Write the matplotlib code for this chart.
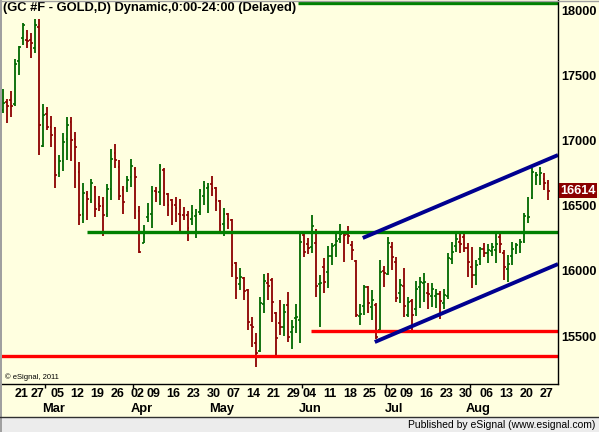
import numpy as np
import pandas as pd
import matplotlib
matplotlib.use("Agg")
import matplotlib.pyplot as plt
from matplotlib.patches import Rectangle
from matplotlib.lines import Line2D

plt.rcParams['font.family'] = ['Liberation Sans', 'DejaVu Sans']

# daily bars, GC #F, 14 Feb - 28 Aug 2012 (price x10 as on the chart)
holidays = ['2012-02-20', '2012-04-06', '2012-05-28', '2012-07-04']
dates = pd.bdate_range('2012-02-14', '2012-08-28', freq='C', holidays=holidays)

opens = np.array([
    17233, 17295, 17310, 17280, 17610, 17786, 17770, 17770, 17710, 17870,
    16957, 17203, 17103, 17095, 16750, 16842, 17011, 17141, 17011, 16758,
    16436, 16589, 16543, 16643, 16512, 16497, 16436, 16627, 16904, 16796,
    16620, 16635, 16720, 16781, 16459, 16213, 16413, 16436, 16612, 16604,
    16773, 16589, 16543, 16505, 16436, 16428, 16428, 16397, 16420, 16451,
    16574, 16635, 16666, 16635, 16536, 16359, 16436, 16390, 16060, 15899,
    15945, 15853, 15585, 15446, 15385, 15745, 15907, 15930, 15676, 15600,
    15569, 15738, 15531, 15638, 15623, 16275, 16206, 16183, 16213, 15900,
    16029, 15991, 16114, 16198, 16244, 16290, 16280, 16198, 16075, 15653,
    15730, 15876, 15722, 15738, 15546, 15999, 15976, 16183, 16068, 15830,
    15884, 15661, 15768, 15707, 15876, 15907, 15830, 15807, 15807, 15822,
    15753, 15807, 16090, 16190, 16221, 16259, 16175, 16029, 15968, 16090,
    16167, 16140, 16152, 16160, 16259, 16137, 16014, 16114, 16183, 16183,
    16229, 16405, 16558, 16727, 16735, 16704, 16674])

highs = np.array([
    17395, 17318, 17380, 17625, 17724, 17900, 17847, 17824, 17930, 17930,
    17280, 17256, 17187, 17103, 16888, 17057, 17180, 17180, 17065, 16835,
    16674, 16612, 16704, 16650, 16574, 16566, 16666, 16934, 16973, 16850,
    16650, 16727, 16858, 16796, 16497, 16351, 16520, 16650, 16643, 16819,
    16789, 16597, 16551, 16566, 16551, 16489, 16459, 16505, 16474, 16627,
    16689, 16674, 16727, 16643, 16543, 16482, 16443, 16397, 16068, 16022,
    15953, 15860, 15646, 15523, 15799, 15976, 15983, 15945, 15684, 15776,
    15745, 15837, 15623, 15745, 16290, 16290, 16252, 16428, 16321, 15968,
    16098, 16190, 16213, 16282, 16359, 16305, 16344, 16229, 16083, 15745,
    15891, 15884, 15853, 15753, 16083, 16037, 16259, 16221, 16106, 15937,
    16022, 15799, 15784, 15922, 15953, 15983, 15907, 15907, 15860, 15845,
    15860, 16137, 16221, 16305, 16282, 16305, 16213, 16183, 16083, 16183,
    16213, 16206, 16213, 16298, 16290, 16160, 16121, 16221, 16213, 16244,
    16443, 16566, 16789, 16758, 16796, 16750, 16697])

lows = np.array([
    17210, 17134, 17180, 17264, 17502, 17732, 17710, 17632, 17670, 16890,
    16950, 17080, 16950, 16635, 16720, 16766, 16850, 16842, 16635, 16351,
    16367, 16390, 16520, 16413, 16459, 16267, 16413, 16543, 16789, 16543,
    16436, 16604, 16643, 16397, 16137, 16213, 16374, 16328, 16528, 16505,
    16497, 16420, 16351, 16374, 16305, 16390, 16229, 16351, 16252, 16428,
    16505, 16443, 16574, 16459, 16305, 16267, 16321, 15953, 15784, 15853,
    15776, 15546, 15416, 15262, 15377, 15676, 15776, 15607, 15331, 15508,
    15500, 15454, 15400, 15523, 15446, 16106, 16129, 16137, 15799, 15569,
    15830, 15868, 16045, 16106, 16213, 16068, 16206, 16083, 15646, 15584,
    15661, 15676, 15623, 15477, 15523, 15876, 15968, 16006, 15761, 15753,
    15646, 15646, 15538, 15653, 15715, 15761, 15707, 15722, 15715, 15630,
    15707, 15784, 16052, 16144, 16137, 16144, 15953, 15868, 15891, 16045,
    16106, 16060, 16114, 16060, 16137, 15930, 15914, 16045, 16129, 16137,
    16213, 16367, 16551, 16658, 16658, 16620, 16543])

closes = np.array([
    17287, 17264, 17264, 17586, 17716, 17885, 17760, 17747, 17885, 17118,
    17195, 17103, 17042, 16735, 16842, 16988, 17118, 17003, 16950, 16428,
    16597, 16551, 16674, 16474, 16497, 16428, 16627, 16858, 16850, 16574,
    16528, 16697, 16804, 16720, 16144, 16298, 16436, 16612, 16604, 16804,
    16597, 16505, 16505, 16482, 16428, 16420, 16328, 16443, 16428, 16612,
    16650, 16643, 16627, 16543, 16351, 16436, 16397, 16045, 15945, 15953,
    15845, 15607, 15570, 15370, 15753, 15922, 15884, 15761, 15485, 15569,
    15684, 15492, 15569, 15646, 16221, 16144, 16175, 16344, 15884, 15910,
    15914, 16114, 16190, 16229, 16282, 16275, 16270, 16160, 15661, 15669,
    15876, 15753, 15776, 15492, 15991, 15983, 16213, 16106, 15791, 15891,
    15730, 15761, 15661, 15860, 15914, 15914, 15822, 15860, 15822, 15768,
    15815, 16098, 16144, 16244, 16206, 16175, 16068, 15968, 16045, 16167,
    16137, 16160, 16183, 16206, 16206, 16029, 16052, 16167, 16198, 16221,
    16420, 16413, 16758, 16735, 16750, 16674, 16614])

# drawn horizontal levels: start bar, price, colour
level_start = [73.5, 20.9, 76.8, -1]
level_price = [18054, 16298, 15538, 15347]
level_color = ['#008000', '#008000', '#FF0000', '#FF0000']

# channel lines: (bar, price) start and end
chan_x = [[89.7, 138.4], [92.7, 138.4]]
chan_y = [[16252, 16888], [15454, 16052]]

W, H = 599, 432
bg = '#FFFFE0'
fig = plt.figure(figsize=(W / 100, H / 100), dpi=100, facecolor=bg)
ax = fig.add_axes([2 / W, 48 / H, 556 / W, 384 / H])
ax.set_facecolor(bg)

x = np.arange(len(dates))
xmax = 138.4
colors = np.where(closes >= opens, '#006800', '#8B0000')
ax.vlines(x, lows, highs, colors=colors, lw=1.3)
ax.hlines(opens, x - 0.45, x, colors=colors, lw=1.2)
ax.hlines(closes, x, x + 0.45, colors=colors, lw=1.2)

for s, p, c in zip(level_start, level_price, level_color):
    ax.plot([s, xmax], [p, p], color=c, lw=2.4, solid_capstyle='butt')
for cx, cy in zip(chan_x, chan_y):
    ax.plot(cx, cy, color='#000090', lw=2.8, solid_capstyle='butt')

ax.set_xlim(-0.3, xmax)
ax.set_ylim(15132, 18077)

for s in ['left', 'top']:
    ax.spines[s].set_visible(False)
for s in ['right', 'bottom']:
    ax.spines[s].set_color('black')
    ax.spines[s].set_linewidth(1)

# x axis: week starts and month starts
week_idx = [i for i in range(1, len(dates)) if dates[i].weekday() < dates[i - 1].weekday()]
month_idx = [i for i in range(1, len(dates)) if dates[i].month != dates[i - 1].month]
ax.set_xticks([i + 0.5 for i in week_idx], ['%02d' % dates[i].day for i in week_idx])
ax.set_xticks([i - 0.5 for i in month_idx], minor=True)
ax.tick_params(axis='x', which='major', length=0, pad=3, labelsize=9)
ax.tick_params(axis='x', which='minor', length=3, width=1)
for lbl in ax.get_xticklabels():
    lbl.set_fontweight('bold')
for i in month_idx:
    ax.text(i + 1.5, -0.066, dates[i].strftime('%b'), transform=ax.get_xaxis_transform(),
            ha='center', va='center', fontsize=9.3, fontweight='bold')

ax.yaxis.tick_right()
ax.set_yticks(range(15500, 18001, 500))
ax.tick_params(axis='y', length=0, pad=2, labelsize=9.2)
for lbl in ax.get_yticklabels():
    lbl.set_fontweight('bold')

ax.text(1.004, closes[-1], str(closes[-1]), transform=ax.get_yaxis_transform(),
        ha='left', va='center', color='white', fontsize=9.2, fontweight='bold',
        bbox=dict(boxstyle='square,pad=0.12', fc='#8B0000', ec='none'), zorder=5)

ax.text(0.002, 0.996, '(GC #F - GOLD,D) Dynamic,0:00-24:00 (Delayed)', transform=ax.transAxes,
        ha='left', va='top', fontsize=9.3, fontweight='bold')
ax.text(0.006, 0.018, '\u00a9 eSignal, 2011', transform=ax.transAxes,
        ha='left', va='center', fontsize=5.5)

# frame and footer
fig.add_artist(Rectangle((0, 0), 1, 15 / H, transform=fig.transFigure, fc='#ECECEC', ec='none'))
fig.add_artist(Line2D([0, 1], [15 / H, 15 / H], transform=fig.transFigure, color='#303030', lw=1))
fig.add_artist(Rectangle((0, 0), 2 / W, 1, transform=fig.transFigure, fc='#A0A0A0', ec='none'))
fig.add_artist(Line2D([0, 1], [1 - 0.5 / H, 1 - 0.5 / H], transform=fig.transFigure, color='#A0A0A0', lw=1))
fig.text(595 / W, 7.5 / H, 'Published by eSignal (www.esignal.com)', ha='right', va='center', fontsize=7.5)

fig.savefig('out.png', dpi=100, facecolor=bg)
